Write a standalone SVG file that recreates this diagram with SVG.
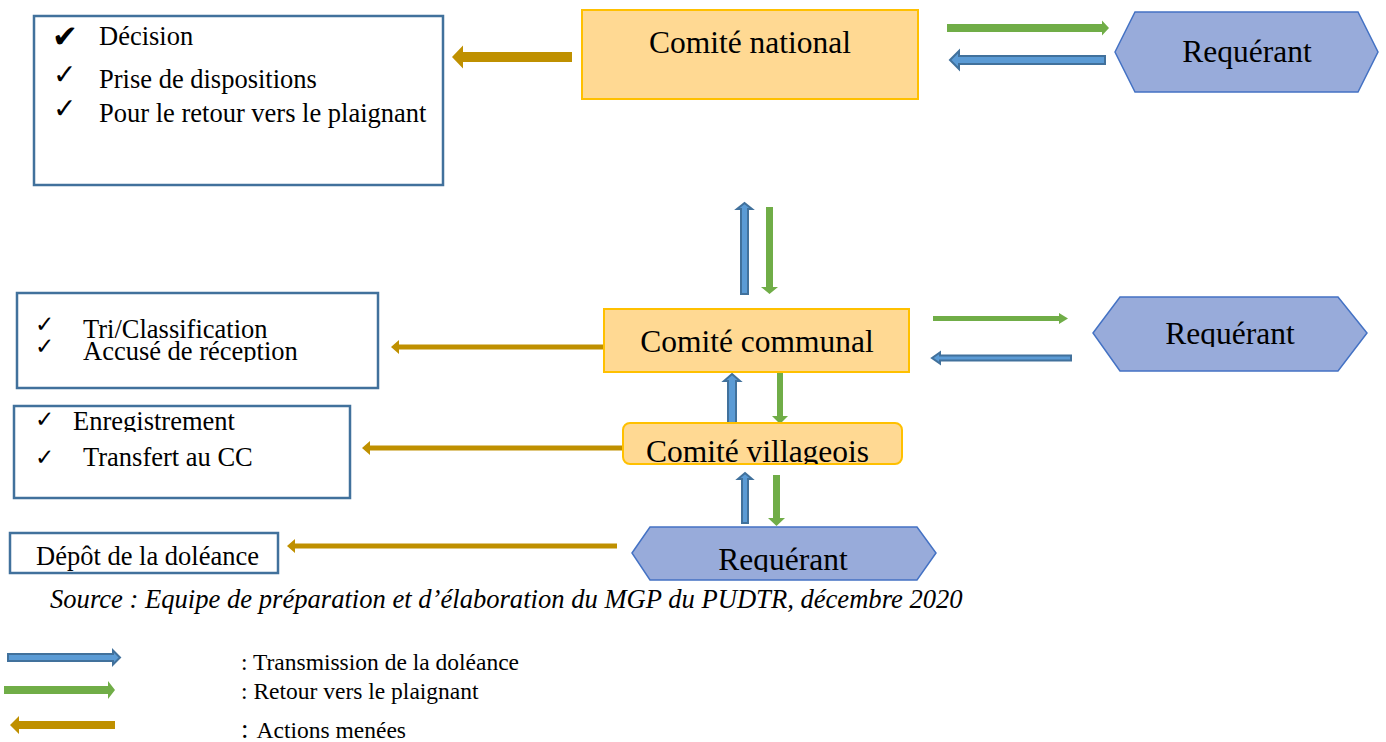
<svg xmlns="http://www.w3.org/2000/svg" width="1386" height="742" viewBox="0 0 1386 742">
<style>
.bg{fill:#fff}
.box{fill:#fff;stroke:#41719c;stroke-width:2.5}
.comite{fill:#ffd993;stroke:#ffc000;stroke-width:2}
.hex{fill:#98abda;stroke:#4472c4;stroke-width:1.5}
.t{font-family:"Liberation Serif","Times New Roman",serif;fill:#000}
.big{font-size:31.5px}
.item{font-size:26.5px}
.leg{font-size:23.5px}
.src{font-size:26.6px;font-style:italic}
.chk{font-family:"DejaVu Sans",sans-serif;fill:#000}
.blue{fill:#5b9bd5;stroke:#41719c;stroke-width:2;stroke-linejoin:miter}
.green{fill:#70ad47}
.gold{fill:#bf9000}
</style>
<defs>
<clipPath id="clipVill"><rect x="623" y="423" width="279" height="41"/></clipPath>
<clipPath id="clipReqB"><rect x="600" y="520" width="360" height="52"/></clipPath>
<clipPath id="clipReqM"><rect x="1090" y="290" width="290" height="57"/></clipPath>
<clipPath id="clipTri"><rect x="17" y="293" width="361" height="69"/></clipPath>
<clipPath id="clipEnr"><rect x="14" y="406" width="336" height="26"/></clipPath>
</defs>
<rect class="bg" x="0" y="0" width="1386" height="742"/>

<g id="connectors">
  <polygon class="gold" points="452,57 463,45.5 463,52 572,52 572,62 463,62 463,68.5"/>
  <polygon class="gold" points="391,347 399,340 399,344.5 605,344.5 605,349.5 399,349.5 399,354"/>
  <polygon class="gold" points="362,448 370,441 370,445.5 623,445.5 623,450.5 370,450.5 370,455"/>
  <polygon class="gold" points="287,546 295,539 295,543.5 617,543.5 617,548.5 295,548.5 295,553"/>
  <polygon class="green" points="947,24 1102,24 1102,20.5 1109,28 1102,35.5 1102,32 947,32"/>
  <polygon class="blue" points="950,60 959,51 959,56 1105,56 1105,64 959,64 959,69"/>
  <polygon class="blue" points="744.5,203 752,209 748,209 748,294 741,294 741,209 737,209"/>
  <polygon class="green" points="766,207 773,207 773,287 778,287 769.5,294 761,287 766,287"/>
  <polygon class="green" points="933,316 1059,316 1059,313 1068,318.5 1059,324 1059,321 933,321"/>
  <polygon class="blue" points="932,358 940,352.5 940,355.5 1071,355.5 1071,360.5 940,360.5 940,363.5"/>
  <polygon class="blue" points="732,374 740,381 736,381 736,424 728,424 728,381 724,381"/>
  <polygon class="green" points="777,372 783,372 783,416 788,416 780,424 772,416 777,416"/>
  <polygon class="blue" points="745,473 752,479 748,479 748,523 742,523 742,479 738,479"/>
  <polygon class="green" points="773,475 780,475 780,518 785,518 776.5,526 768,518 773,518"/>
</g>

<g id="actions-national">
  <rect class="box" x="34" y="16" width="409" height="169"/>
  <text class="chk" x="52" y="47" font-size="31">✔</text>
  <text class="chk" x="53" y="84" font-size="28">✓</text>
  <text class="chk" x="53" y="118" font-size="28">✓</text>
  <text class="t item" x="99" y="45">Décision</text>
  <text class="t item" x="99" y="88">Prise de dispositions</text>
  <text class="t item" x="99" y="122">Pour le retour vers le plaignant</text>
</g>

<g id="comite-national">
  <rect class="comite" x="582" y="10" width="336" height="89"/>
  <text class="t big" x="750" y="53" text-anchor="middle">Comité national</text>
</g>

<g id="requerant-national">
  <polygon class="hex" points="1115,52 1135,12 1358,12 1378,52 1358,92 1135,92"/>
  <text class="t big" x="1247" y="62" text-anchor="middle">Requérant</text>
</g>

<g id="actions-communal">
  <rect class="box" x="17" y="293" width="361" height="95"/>
  <text class="chk" x="35" y="332" font-size="23">✓</text>
  <text class="chk" x="35" y="354" font-size="23">✓</text>
  <g clip-path="url(#clipTri)">
    <text class="t item" x="83" y="338">Tri/Classification</text>
    <text class="t item" x="83" y="360">Accusé de réception</text>
  </g>
</g>

<g id="comite-communal">
  <rect class="comite" x="604" y="309" width="305" height="63"/>
  <text class="t big" x="757" y="352" text-anchor="middle">Comité communal</text>
</g>

<g id="requerant-communal">
  <polygon class="hex" points="1093,333 1120,297 1338,297 1367,333 1338,371 1120,371"/>
  <text class="t big" x="1230" y="344" text-anchor="middle" clip-path="url(#clipReqM)">Requérant</text>
</g>

<g id="actions-villageois">
  <rect class="box" x="14" y="406" width="336" height="92"/>
  <text class="chk" x="35" y="427" font-size="23">✓</text>
  <text class="chk" x="35" y="465" font-size="23">✓</text>
  <text class="t item" x="73" y="430" clip-path="url(#clipEnr)">Enregistrement</text>
  <text class="t item" x="83" y="466">Transfert au CC</text>
</g>

<g id="comite-villageois">
  <rect class="comite" x="623" y="423" width="279" height="41" rx="7"/>
  <text class="t big" x="646" y="462" clip-path="url(#clipVill)">Comité villageois</text>
</g>

<g id="depot">
  <rect class="box" x="10" y="533" width="268" height="40"/>
  <text class="t item" x="36" y="565">Dépôt de la doléance</text>
</g>

<g id="requerant-village">
  <polygon class="hex" points="632,553 650,527 917,527 936,553 917,580 650,580"/>
  <text class="t big" x="783" y="570" text-anchor="middle" clip-path="url(#clipReqB)">Requérant</text>
</g>

<text class="t src" x="50" y="608">Source : Equipe de préparation et d’élaboration du MGP du PUDTR, décembre 2020</text>

<g id="legend">
  <polygon class="blue" points="8,654 113,654 113,650.5 120,657.5 113,664.5 113,661 8,661"/>
  <polygon class="green" points="4,686 108,686 108,681 115,690 108,699 108,694 4,694"/>
  <polygon class="gold" points="10,725 19,716 19,721 115,721 115,729 19,729 19,734"/>
  <text class="t leg" x="241" y="670">: Transmission de la doléance</text>
  <text class="t leg" x="241" y="699">: Retour vers le plaignant</text>
  <text class="t leg" x="241" y="738"><tspan font-size="27">:</tspan><tspan dx="8">Actions menées</tspan></text>
</g>
</svg>
